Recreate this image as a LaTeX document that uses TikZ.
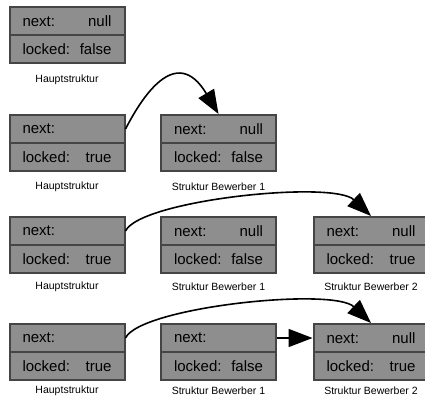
\documentclass[tikz,border=0pt]{standalone}
\usepackage{fontspec}
\setmainfont{Liberation Sans}
\usetikzlibrary{arrows.meta}

\definecolor{boxfill}{HTML}{8E8E8E}
\definecolor{boxline}{HTML}{454545}

% one field of a structure: label on the left, value on the right
\newcommand\fieldtext[2]{\makebox[89pt]{#1\hfill#2}}

% a two-field structure: name, centre x, y of the divider, next, locked,
% caption, y of the caption
\newcommand\structbox[7]{%
  \node[field] (#1n) at (#2,#3-14) {\fieldtext{next:}{#4}};
  \node[field] (#1l) at (#2,#3+14) {\fieldtext{locked:}{#5}};
  \node[caption] (#1c) at (#2,#7) {#6};
}

\begin{document}
\begin{tikzpicture}[
    x=1pt, y=-1pt,
    field/.style={draw=boxline, fill=boxfill, line width=2pt,
      minimum width=115pt, minimum height=28pt, inner sep=0pt,
      font=\fontsize{15}{18}\selectfont},
    caption/.style={inner sep=0pt, font=\fontsize{10.5}{12}\selectfont},
    link/.style={line width=1.6pt, -{Triangle[length=24pt,width=18pt]}}
  ]
  \useasboundingbox (0,0) rectangle (425,398);

  % state 1: main structure only
  \structbox{ha}{67}{35}{null}{false}{Hauptstruktur}{80}

  % state 2: first applicant enqueued
  \structbox{hb}{67}{143}{}{true}{Hauptstruktur}{187}
  \structbox{pb}{218.5}{143}{null}{false}{Struktur Bewerber 1}{187}
  \draw[link] (hbn.east) .. controls +(15,-29) and +(-43,-72) .. (pbn.north);

  % state 3: second applicant, tail moved
  \structbox{hc}{67}{245}{}{true}{Hauptstruktur}{287}
  \structbox{pc}{218.5}{245}{null}{false}{Struktur Bewerber 1}{287}
  \structbox{qc}{371}{245}{null}{true}{Struktur Bewerber 2}{287}
  \draw[link] (hcn.east) .. controls +(15,-31) and +(-38,-36) .. (qcn.north);

  % state 4: first applicant linked to the second
  \structbox{hd}{67}{352}{}{true}{Hauptstruktur}{391}
  \structbox{pd}{218.5}{352}{}{false}{Struktur Bewerber 1}{391}
  \structbox{qd}{371}{352}{null}{true}{Struktur Bewerber 2}{391}
  \draw[link] (hdn.east) .. controls +(15,-31) and +(-38,-36) .. (qdn.north);
  \draw[link] (pdn.east) -- (qdn.west);
\end{tikzpicture}
\end{document}
